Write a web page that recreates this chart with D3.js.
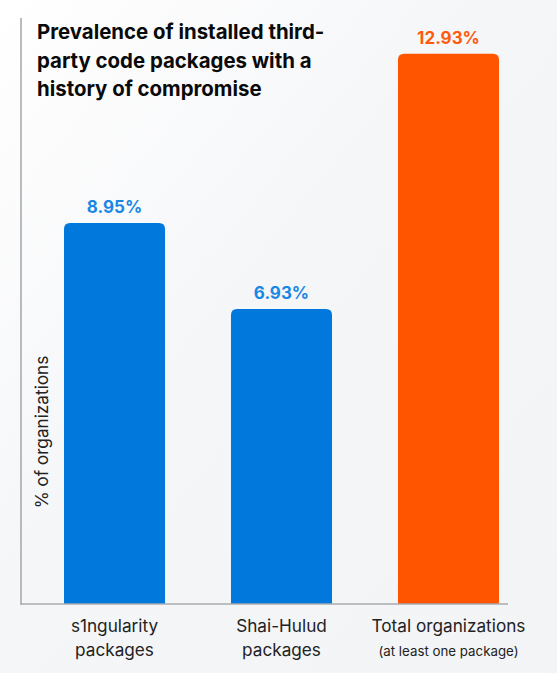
<!DOCTYPE html>
<html><head><meta charset="utf-8">
<script src="https://cdn.jsdelivr.net/npm/d3@7"></script>
<style>
html,body{margin:0;padding:0;background:#f4f5f7;}
svg{display:block;}
text{font-family:Inter,"Noto Sans",sans-serif;}
</style></head>
<body>
<svg id="chart" width="557" height="673"></svg>
<script>
const categories = ["s1ngularity", "Shai-Hulud", "Total organizations"];
const categorySublines = ["packages", "packages", "(at least one package)"];
const values = [8.95, 6.93, 12.93];
const valueLabels = ["8.95%", "6.93%", "12.93%"];
const barColors = ["#0078dc", "#0078dc", "#ff5500"];
const labelColors = ["#1a87e4", "#1a87e4", "#ff5a0a"];
const titleLines = ["Prevalence of installed third-", "party code packages with a", "history of compromise"];
const yAxisTitle = "% of organizations";

const W = 557, H = 673;
const svg = d3.select("#chart");
const defs = svg.append("defs");
const g = defs.append("linearGradient").attr("id","bg").attr("x1","0").attr("y1","0").attr("x2","1").attr("y2","1");
g.append("stop").attr("offset","0%").attr("stop-color","#ffffff");
g.append("stop").attr("offset","45%").attr("stop-color","#f5f6f8");
g.append("stop").attr("offset","100%").attr("stop-color","#f3f4f6");
svg.append("rect").attr("width",W).attr("height",H).attr("fill","url(#bg)");

const x0 = 21, baseY = 604, topY = 18, xEnd = 508;
const y = d3.scaleLinear().domain([0, 13.77]).range([baseY, topY]);
const x = d3.scaleBand().domain(categories).range([21, 542]).paddingInner(0.395).paddingOuter(0.2575);

svg.append("line").attr("x1",x0).attr("x2",x0).attr("y1",topY).attr("y2",baseY+1)
  .attr("stroke","#a9abaf").attr("stroke-width",1.6);

const r = 6;
function barPath(xl, w, yt, yb){
  return `M${xl},${yb}V${yt+r}Q${xl},${yt} ${xl+r},${yt}H${xl+w-r}Q${xl+w},${yt} ${xl+w},${yt+r}V${yb}Z`;
}
svg.selectAll("path.bar").data(values).join("path").attr("class","bar")
  .attr("d",(d,i)=>barPath(x(categories[i]), x.bandwidth(), y(d), y(0)))
  .attr("fill",(d,i)=>barColors[i]);

svg.append("line").attr("x1",x0).attr("x2",xEnd).attr("y1",baseY).attr("y2",baseY)
  .attr("stroke","#a9abaf").attr("stroke-width",1.6);

svg.selectAll("text.val").data(values).join("text").attr("class","val")
  .attr("x",(d,i)=>x(categories[i])+x.bandwidth()/2)
  .attr("y",d=>y(d)-10)
  .attr("text-anchor","middle").attr("font-size",17).attr("font-weight",700)
  .attr("fill",(d,i)=>labelColors[i])
  .text((d,i)=>valueLabels[i]);

svg.selectAll("text.cat").data(categories).join("text").attr("class","cat")
  .attr("x",d=>x(d)+x.bandwidth()/2).attr("y",baseY+28)
  .attr("text-anchor","middle").attr("font-size",17.2).attr("fill","#222")
  .text(d=>d);
svg.selectAll("text.sub").data(categorySublines).join("text").attr("class","sub")
  .attr("x",(d,i)=>x(categories[i])+x.bandwidth()/2).attr("y",baseY+52)
  .attr("text-anchor","middle")
  .attr("font-size",(d,i)=>i===2?13.3:17.2).attr("fill","#222")
  .text(d=>d);

svg.append("text").attr("transform","translate(48,432) rotate(-90)")
  .attr("text-anchor","middle").attr("font-size",17.2).attr("fill","#222").text(yAxisTitle);

svg.selectAll("text.title").data(titleLines).join("text").attr("class","title")
  .attr("x",37).attr("y",(d,i)=>39+i*28.5)
  .attr("font-size",20.4).attr("font-weight",700).attr("fill","#0a0a0a")
  .text(d=>d);
</script>
</body></html>
